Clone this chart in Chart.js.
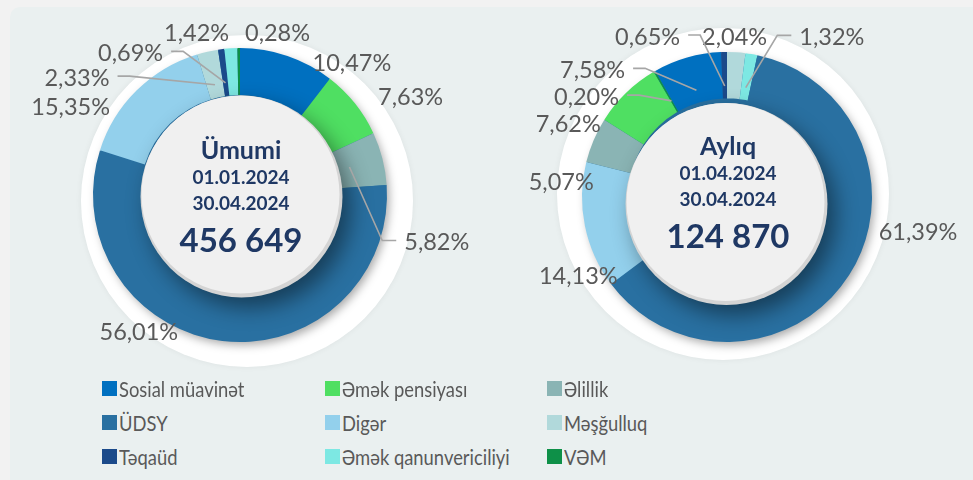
<!DOCTYPE html>
<html lang="az">
<head>
<meta charset="utf-8">
<title>Müraciətlər</title>
<script src="https://cdn.jsdelivr.net/npm/chart.js@4.4.1/dist/chart.umd.min.js"></script>
<style>
  html, body { margin: 0; padding: 0; width: 973px; height: 480px; overflow: hidden; background: #F2F2F2; font-family: Lato, "Open Sans", sans-serif; }
  #panel { position: absolute; left: 10px; top: 7px; width: 990px; height: 500px; background: #EAF0F0; border-radius: 10px; }
  #cTotal { position: absolute; left: 0; top: 0; }
  #cMonth { position: absolute; left: 481px; top: 0; }
  .lg { position: absolute; height: 20px; display: flex; align-items: center; font-size: 21px; color: #595959; white-space: nowrap; }
  .lg i { display: inline-block; width: 15px; height: 15px; margin-right: 2px; flex: none; }
  .lg span { display: inline-block; transform: scaleX(0.875); transform-origin: left center; }
</style>
</head>
<body>
<div id="panel"></div>
<canvas id="cTotal" width="480" height="390"></canvas>
<canvas id="cMonth" width="492" height="394"></canvas>
<div id="legend"></div>
<script>
// Categories in legend order
const categories = ['Sosial müavinət', 'Əmək pensiyası', 'Əlillik', 'ÜDSY', 'Digər', 'Məşğulluq', 'Təqaüd', 'Əmək qanunvericiliyi', 'VƏM'];

// Share of each category, % — whole period
const totalValues = [10.47, 7.63, 5.82, 56.01, 15.35, 2.33, 0.69, 1.42, 0.28];

// Share of each category, % — month (slice order of the month ring)
const monthCategories = ['Məşğulluq', 'Əmək qanunvericiliyi', 'ÜDSY', 'Digər', 'Əlillik', 'Əmək pensiyası', 'VƏM', 'Sosial müavinət', 'Təqaüd'];
const monthValues = [2.04, 1.32, 61.39, 14.13, 5.07, 7.62, 0.20, 7.58, 0.65];

// Centre captions
const totalCaption = ['Ümumi', '01.01.2024', '30.04.2024', '456 649'];
const monthCaption = ['Aylıq', '01.04.2024', '30.04.2024', '124 870'];

// Colours per category (same order as categories)
const palette = ['#0070C0', '#4FDF62', '#8AB4B4', '#2970A1', '#93D0EC', '#B1D9DB', '#1B4A8A', '#7DE8E3', '#0E9048'];

// Label placement: shift from the radial anchor, and leader side (0 = none, -1 = text left of leader, 1 = text right)
const totalLabelShift = [[58, 26, 0], [40, 7, 0], [35, 89, 1], [-81, -28, 0], [-52, 31, 0], [-126, 46, -1], [-88, 24, -1], [-33, 5, 0], [39, 5, 0]];
const monthLabelShift = [[-3, 5, 0], [77, 3, 1], [52, -53, 0], [13, 47, 0], [-14, 50, 0], [-44, 46, 0], [-58, 43, -1], [-89, 32, -1], [-76, 5, -1]];

const fmtPct = v => v.toFixed(2).replace('.', ',') + '%';

const ringDecor = {
  id: 'ringDecor',
  beforeDatasetsDraw(chart, args, o) {
    const ctx = chart.ctx;
    const a = chart.getDatasetMeta(0).data[0].getProps(['x', 'y', 'outerRadius'], true);
    ctx.save();
    // white halo behind the ring
    ctx.shadowColor = 'rgba(0,0,0,0.06)';
    ctx.shadowBlur = 6;
    ctx.fillStyle = '#FFFFFF';
    ctx.beginPath();
    ctx.arc(a.x + o.halo[0], a.y + o.halo[1], a.outerRadius + o.halo[2], 0, Math.PI * 2);
    ctx.fill();
    // soft shadow under the ring
    ctx.shadowColor = 'rgba(0,0,0,0.35)';
    ctx.shadowBlur = 10;
    ctx.shadowOffsetX = 3;
    ctx.shadowOffsetY = 4;
    ctx.fillStyle = palette[3];
    ctx.beginPath();
    ctx.arc(a.x, a.y, a.outerRadius - 1, 0, Math.PI * 2);
    ctx.fill();
    ctx.restore();
  },
  afterDatasetsDraw(chart, args, o) {
    const ctx = chart.ctx;
    const meta = chart.getDatasetMeta(0);
    const first = meta.data[0].getProps(['x', 'y', 'outerRadius', 'innerRadius'], true);
    const cx = first.x, cy = first.y;
    const dx = cx + o.disc[0], dy = cy + o.disc[1], dr = o.disc[2];

    // inner disc with drop shadow and bevelled rim
    ctx.save();
    ctx.shadowColor = 'rgba(0,0,0,0.45)';
    ctx.shadowBlur = 22;
    ctx.shadowOffsetX = 8;
    ctx.shadowOffsetY = 10;
    ctx.fillStyle = '#D4D4D4';
    ctx.beginPath();
    ctx.arc(dx, dy, dr, 0, Math.PI * 2);
    ctx.fill();
    ctx.restore();
    ctx.save();
    ctx.fillStyle = '#F0F0F0';
    ctx.beginPath();
    ctx.arc(dx - 1, dy - 2, dr - 2, 0, Math.PI * 2);
    ctx.fill();
    ctx.restore();

    // centre captions
    const cap = o.caption;
    const capFonts = ['bold 25px Lato', 'bold 19px Lato', 'bold 19px Lato', 'bold 33px Lato'];
    const capOffs = [0, 27, 53, 90];
    ctx.save();
    ctx.fillStyle = '#1F3864';
    ctx.textAlign = 'center';
    ctx.textBaseline = 'middle';
    cap.forEach((t, i) => {
      ctx.font = capFonts[i];
      ctx.fillText(t, cx + 1, cy + o.captionTop + capOffs[i]);
    });
    ctx.restore();

    // percentage labels with leader lines
    ctx.save();
    ctx.font = '23.5px Lato';
    ctx.fillStyle = '#595959';
    ctx.strokeStyle = '#A6A6A6';
    ctx.lineWidth = 1.6;
    ctx.textBaseline = 'middle';
    const values = chart.data.datasets[0].data;
    meta.data.forEach((el, i) => {
      const p = el.getProps(['x', 'y', 'startAngle', 'endAngle', 'outerRadius'], true);
      const mid = (p.startAngle + p.endAngle) / 2;
      const shift = o.shift[i];
      const rA = p.outerRadius + 20;
      const lx = p.x + Math.cos(mid) * rA + shift[0];
      const ly = p.y + Math.sin(mid) * rA + shift[1];
      const text = fmtPct(values[i]);
      const w = ctx.measureText(text).width;
      ctx.textAlign = 'center';
      ctx.fillText(text, lx, ly);
      if (shift[2] !== 0) {
        const side = shift[2];
        const edge = side < 0 ? lx + w / 2 + 8 : lx - w / 2 - 8;
        const elbow = side < 0 ? edge + 12 : edge - 14;
        const rS = p.outerRadius - 34;
        const sx = p.x + Math.cos(mid) * rS;
        const sy = p.y + Math.sin(mid) * rS;
        ctx.beginPath();
        ctx.moveTo(edge, ly - 2);
        ctx.lineTo(elbow, ly - 2);
        ctx.lineTo(sx, sy);
        ctx.stroke();
      }
    });
    ctx.restore();
  }
};

function makeRing(canvasId, labels, values, radius, plug) {
  const colors = labels.map(l => palette[categories.indexOf(l)]);
  return new Chart(document.getElementById(canvasId), {
    type: 'doughnut',
    data: {
      labels: labels,
      datasets: [{ data: values, backgroundColor: colors, borderWidth: 0, hoverOffset: 0 }]
    },
    options: {
      responsive: false,
      animation: false,
      radius: radius,
      cutout: '68%',
      layout: { padding: 0 },
      events: [],
      plugins: {
        legend: { display: false },
        tooltip: { enabled: false },
        ringDecor: plug
      }
    },
    plugins: [ringDecor]
  });
}

makeRing('cTotal', categories, totalValues, 147, {
  halo: [7, 6, 19], disc: [1.5, 1.5, 101], caption: totalCaption, captionTop: -44, shift: totalLabelShift
});
makeRing('cMonth', monthCategories, monthValues, 145, {
  halo: [-4, -3, 21], disc: [-0.5, 7, 101], caption: monthCaption, captionTop: -50, shift: monthLabelShift
});

// legend: three columns, row-major
const legend = document.getElementById('legend');
const colX = [102, 325, 547];
const rowY = [378, 412, 446];
categories.forEach((name, i) => {
  const d = document.createElement('div');
  d.className = 'lg';
  d.style.left = colX[i % 3] + 'px';
  d.style.top = rowY[Math.floor(i / 3)] + 'px';
  const sw = document.createElement('i');
  sw.style.background = palette[i];
  d.appendChild(sw);
  const tx = document.createElement('span');
  tx.textContent = name;
  d.appendChild(tx);
  legend.appendChild(d);
});
</script>
</body>
</html>
